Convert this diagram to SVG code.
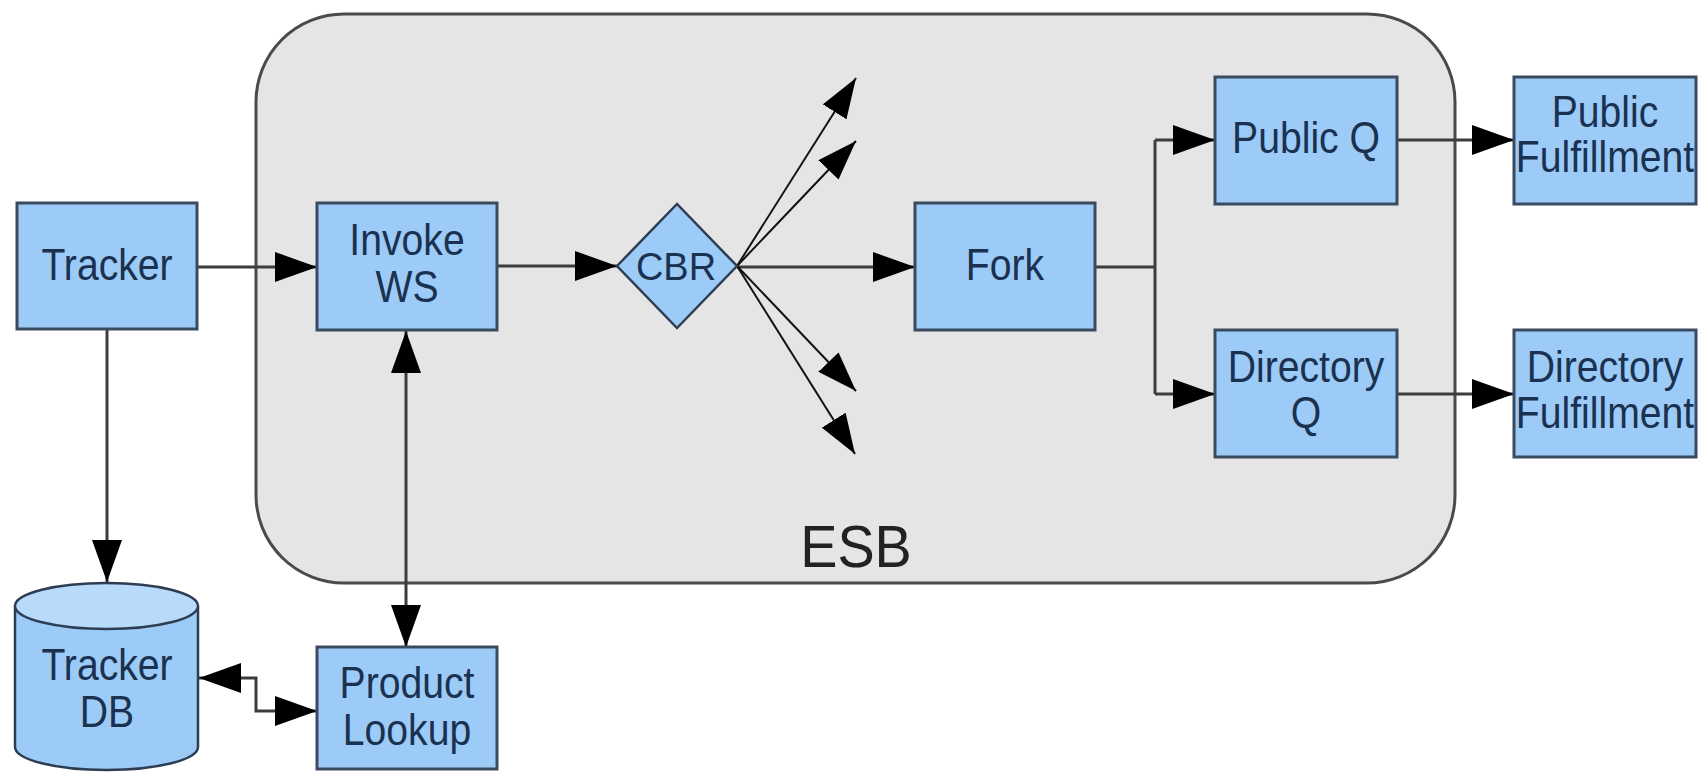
<svg xmlns="http://www.w3.org/2000/svg" width="1705" height="774" viewBox="0 0 1705 774">
  <style>
    .box { fill: #9ccbf8; stroke: #3a4b60; stroke-width: 3; }
    .lbl { font-family: "Liberation Sans", Arial, sans-serif; font-size: 44px; fill: #1b3150; text-anchor: middle; }
    .conn { fill: none; stroke: #3c3c3c; stroke-width: 3; }
    .fan { fill: none; stroke: #111; stroke-width: 2; }
  </style>
  <defs>
    <marker id="arr" markerUnits="userSpaceOnUse" markerWidth="42" markerHeight="30" refX="42" refY="15" orient="auto-start-reverse">
      <path d="M0,0 L42,15 L0,30 Z" fill="#000"/>
    </marker>
    <marker id="arrs" markerUnits="userSpaceOnUse" markerWidth="40" markerHeight="28" refX="40" refY="14" orient="auto">
      <path d="M0,0 L40,14 L0,28 Z" fill="#000"/>
    </marker>
  </defs>
  <rect width="1705" height="774" fill="#ffffff"/>

  <g id="esb">
    <rect x="256" y="14" width="1199" height="569" rx="88" ry="88" fill="#e5e5e5" stroke="#4a4a4a" stroke-width="3"/>
    <text class="lbl" style="font-size:60px;fill:#222" transform="translate(856,567) scale(0.93,1)">ESB</text>
  </g>

  <g id="connectors">
    <path class="conn" d="M197,267 H317" marker-end="url(#arr)"/>
    <path class="conn" d="M107,329 V582" marker-end="url(#arr)"/>
    <path class="conn" d="M497,266 H617" marker-end="url(#arr)"/>
    <path class="conn" d="M406,331 V647" marker-start="url(#arr)" marker-end="url(#arr)"/>
    <path class="conn" d="M199,678 H256 V711 H317" marker-start="url(#arr)" marker-end="url(#arr)"/>
    <path class="conn" d="M737,267 H915" marker-end="url(#arr)"/>
    <path class="fan" d="M737,266 L856,78" marker-end="url(#arrs)"/>
    <path class="fan" d="M737,266 L856,141" marker-end="url(#arrs)"/>
    <path class="fan" d="M737,266 L856,391" marker-end="url(#arrs)"/>
    <path class="fan" d="M737,266 L855,454" marker-end="url(#arrs)"/>
    <path class="conn" d="M1095,267 H1155"/>
    <path class="conn" d="M1155,140 V394"/>
    <path class="conn" d="M1155,140 H1215" marker-end="url(#arr)"/>
    <path class="conn" d="M1155,394 H1215" marker-end="url(#arr)"/>
    <path class="conn" d="M1397,140 H1514" marker-end="url(#arr)"/>
    <path class="conn" d="M1397,394 H1514" marker-end="url(#arr)"/>
  </g>

  <g id="tracker">
    <rect class="box" x="17" y="203" width="180" height="126"/>
    <text class="lbl" transform="translate(107,280) scale(0.89,1)">Tracker</text>
  </g>

  <g id="invoke-ws">
    <rect class="box" x="317" y="203" width="180" height="127"/>
    <text class="lbl" transform="translate(407,255) scale(0.89,1)"><tspan x="0" y="0">Invoke</tspan><tspan x="0" y="47">WS</tspan></text>
  </g>

  <g id="cbr">
    <polygon points="617,266 677,204 737,266 677,328" fill="#9ccbf8" stroke="#2e3e52" stroke-width="2.5"/>
    <text class="lbl" style="font-size:38px" transform="translate(676,280)">CBR</text>
  </g>

  <g id="fork">
    <rect class="box" x="915" y="203" width="180" height="127"/>
    <text class="lbl" transform="translate(1005,280) scale(0.89,1)">Fork</text>
  </g>

  <g id="public-q">
    <rect class="box" x="1215" y="77" width="182" height="127"/>
    <text class="lbl" transform="translate(1306,153) scale(0.89,1)">Public Q</text>
  </g>

  <g id="directory-q">
    <rect class="box" x="1215" y="330" width="182" height="127"/>
    <text class="lbl" transform="translate(1306,382) scale(0.89,1)"><tspan x="0" y="0">Directory</tspan><tspan x="0" y="46">Q</tspan></text>
  </g>

  <g id="public-fulfillment">
    <rect class="box" x="1514" y="77" width="182" height="127"/>
    <text class="lbl" transform="translate(1605,127) scale(0.89,1)"><tspan x="0" y="0">Public</tspan><tspan x="0" y="45">Fulfillment</tspan></text>
  </g>

  <g id="directory-fulfillment">
    <rect class="box" x="1514" y="330" width="182" height="127"/>
    <text class="lbl" transform="translate(1605,382) scale(0.89,1)"><tspan x="0" y="0">Directory</tspan><tspan x="0" y="46">Fulfillment</tspan></text>
  </g>

  <g id="tracker-db">
    <path d="M15,606 V747 A91.5,23 0 0 0 198,747 V606" fill="#9ccbf8" stroke="#2e3e52" stroke-width="2.5"/>
    <ellipse cx="106.5" cy="606" rx="91.5" ry="23" fill="#b8dafb" stroke="#2e3e52" stroke-width="2.5"/>
    <text class="lbl" transform="translate(107,680) scale(0.89,1)"><tspan x="0" y="0">Tracker</tspan><tspan x="0" y="47">DB</tspan></text>
  </g>

  <g id="product-lookup">
    <rect class="box" x="317" y="647" width="180" height="122"/>
    <text class="lbl" transform="translate(407,698) scale(0.89,1)"><tspan x="0" y="0">Product</tspan><tspan x="0" y="47">Lookup</tspan></text>
  </g>
</svg>
